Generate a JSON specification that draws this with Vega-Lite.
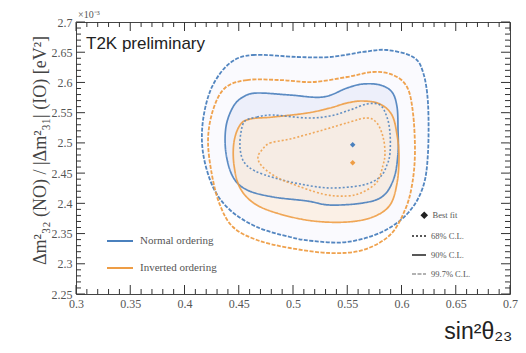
{
 "$schema": "https://vega.github.io/schema/vega-lite/v6.json",
 "width": 434, "height": 272,
 "autosize": "none",
 "padding": {"left": 76, "top": 22, "right": 16, "bottom": 59},
 "background": "white",
 "config": {"view": {"stroke": "#444", "strokeWidth": 1}, "font": "Liberation Serif"},
 "title": {"text": "T2K preliminary", "anchor": "start", "frame": "group", "orient": "top", "offset": 0, "dx": 10, "dy": 56, "baseline": "alphabetic", "font": "Liberation Sans", "fontSize": 17, "fontWeight": "normal", "color": "#222"},
 "datasets": {
  "notes": [{"label": "×10⁻³"}],
  "xt": [{"v":0.3,"m":1},{"v":0.31,"m":0},{"v":0.32,"m":0},{"v":0.33,"m":0},{"v":0.34,"m":0},{"v":0.35,"m":1},{"v":0.36,"m":0},{"v":0.37,"m":0},{"v":0.38,"m":0},{"v":0.39,"m":0},{"v":0.4,"m":1},{"v":0.41,"m":0},{"v":0.42,"m":0},{"v":0.43,"m":0},{"v":0.44,"m":0},{"v":0.45,"m":1},{"v":0.46,"m":0},{"v":0.47,"m":0},{"v":0.48,"m":0},{"v":0.49,"m":0},{"v":0.5,"m":1},{"v":0.51,"m":0},{"v":0.52,"m":0},{"v":0.53,"m":0},{"v":0.54,"m":0},{"v":0.55,"m":1},{"v":0.56,"m":0},{"v":0.57,"m":0},{"v":0.58,"m":0},{"v":0.59,"m":0},{"v":0.6,"m":1},{"v":0.61,"m":0},{"v":0.62,"m":0},{"v":0.63,"m":0},{"v":0.64,"m":0},{"v":0.65,"m":1},{"v":0.66,"m":0},{"v":0.67,"m":0},{"v":0.68,"m":0},{"v":0.69,"m":0},{"v":0.7,"m":1}],
  "yt": [{"v":2.25,"m":1},{"v":2.26,"m":0},{"v":2.27,"m":0},{"v":2.28,"m":0},{"v":2.29,"m":0},{"v":2.3,"m":1},{"v":2.31,"m":0},{"v":2.32,"m":0},{"v":2.33,"m":0},{"v":2.34,"m":0},{"v":2.35,"m":1},{"v":2.36,"m":0},{"v":2.37,"m":0},{"v":2.38,"m":0},{"v":2.39,"m":0},{"v":2.4,"m":1},{"v":2.41,"m":0},{"v":2.42,"m":0},{"v":2.43,"m":0},{"v":2.44,"m":0},{"v":2.45,"m":1},{"v":2.46,"m":0},{"v":2.47,"m":0},{"v":2.48,"m":0},{"v":2.49,"m":0},{"v":2.5,"m":1},{"v":2.51,"m":0},{"v":2.52,"m":0},{"v":2.53,"m":0},{"v":2.54,"m":0},{"v":2.55,"m":1},{"v":2.56,"m":0},{"v":2.57,"m":0},{"v":2.58,"m":0},{"v":2.59,"m":0},{"v":2.6,"m":1},{"v":2.61,"m":0},{"v":2.62,"m":0},{"v":2.63,"m":0},{"v":2.64,"m":0},{"v":2.65,"m":1},{"v":2.66,"m":0},{"v":2.67,"m":0},{"v":2.68,"m":0},{"v":2.69,"m":0},{"v":2.7,"m":1}],
  "contours": [
   {"o":"Normal ordering","cl":"99.7% C.L.","i":0,"x":0.4419,"y":2.6322},
   {"o":"Normal ordering","cl":"99.7% C.L.","i":1,"x":0.4631,"y":2.6454},
   {"o":"Normal ordering","cl":"99.7% C.L.","i":2,"x":0.5037,"y":2.6421},
   {"o":"Normal ordering","cl":"99.7% C.L.","i":3,"x":0.5341,"y":2.6421},
   {"o":"Normal ordering","cl":"99.7% C.L.","i":4,"x":0.5645,"y":2.6504},
   {"o":"Normal ordering","cl":"99.7% C.L.","i":5,"x":0.5866,"y":2.6537},
   {"o":"Normal ordering","cl":"99.7% C.L.","i":6,"x":0.6106,"y":2.6421},
   {"o":"Normal ordering","cl":"99.7% C.L.","i":7,"x":0.6198,"y":2.6173},
   {"o":"Normal ordering","cl":"99.7% C.L.","i":8,"x":0.6244,"y":2.5660},
   {"o":"Normal ordering","cl":"99.7% C.L.","i":9,"x":0.6244,"y":2.4833},
   {"o":"Normal ordering","cl":"99.7% C.L.","i":10,"x":0.6198,"y":2.4270},
   {"o":"Normal ordering","cl":"99.7% C.L.","i":11,"x":0.6060,"y":2.3840},
   {"o":"Normal ordering","cl":"99.7% C.L.","i":12,"x":0.5820,"y":2.3526},
   {"o":"Normal ordering","cl":"99.7% C.L.","i":13,"x":0.5498,"y":2.3360},
   {"o":"Normal ordering","cl":"99.7% C.L.","i":14,"x":0.5184,"y":2.3377},
   {"o":"Normal ordering","cl":"99.7% C.L.","i":15,"x":0.4972,"y":2.3443},
   {"o":"Normal ordering","cl":"99.7% C.L.","i":16,"x":0.4668,"y":2.3608},
   {"o":"Normal ordering","cl":"99.7% C.L.","i":17,"x":0.4419,"y":2.3890},
   {"o":"Normal ordering","cl":"99.7% C.L.","i":18,"x":0.4263,"y":2.4270},
   {"o":"Normal ordering","cl":"99.7% C.L.","i":19,"x":0.4171,"y":2.4833},
   {"o":"Normal ordering","cl":"99.7% C.L.","i":20,"x":0.4171,"y":2.5379},
   {"o":"Normal ordering","cl":"99.7% C.L.","i":21,"x":0.4253,"y":2.5925},

   {"o":"Inverted ordering","cl":"99.7% C.L.","i":0,"x":0.4373,"y":2.5908},
   {"o":"Inverted ordering","cl":"99.7% C.L.","i":1,"x":0.4576,"y":2.6040},
   {"o":"Inverted ordering","cl":"99.7% C.L.","i":2,"x":0.4880,"y":2.6040},
   {"o":"Inverted ordering","cl":"99.7% C.L.","i":3,"x":0.5184,"y":2.6007},
   {"o":"Inverted ordering","cl":"99.7% C.L.","i":4,"x":0.5498,"y":2.6090},
   {"o":"Inverted ordering","cl":"99.7% C.L.","i":5,"x":0.5737,"y":2.6173},
   {"o":"Inverted ordering","cl":"99.7% C.L.","i":6,"x":0.5922,"y":2.6123},
   {"o":"Inverted ordering","cl":"99.7% C.L.","i":7,"x":0.6051,"y":2.5925},
   {"o":"Inverted ordering","cl":"99.7% C.L.","i":8,"x":0.6106,"y":2.5494},
   {"o":"Inverted ordering","cl":"99.7% C.L.","i":9,"x":0.6124,"y":2.4833},
   {"o":"Inverted ordering","cl":"99.7% C.L.","i":10,"x":0.6097,"y":2.4303},
   {"o":"Inverted ordering","cl":"99.7% C.L.","i":11,"x":0.6032,"y":2.3890},
   {"o":"Inverted ordering","cl":"99.7% C.L.","i":12,"x":0.5894,"y":2.3476},
   {"o":"Inverted ordering","cl":"99.7% C.L.","i":13,"x":0.5645,"y":2.3228},
   {"o":"Inverted ordering","cl":"99.7% C.L.","i":14,"x":0.5341,"y":2.3178},
   {"o":"Inverted ordering","cl":"99.7% C.L.","i":15,"x":0.4972,"y":2.3261},
   {"o":"Inverted ordering","cl":"99.7% C.L.","i":16,"x":0.4668,"y":2.3393},
   {"o":"Inverted ordering","cl":"99.7% C.L.","i":17,"x":0.4447,"y":2.3608},
   {"o":"Inverted ordering","cl":"99.7% C.L.","i":18,"x":0.4327,"y":2.3972},
   {"o":"Inverted ordering","cl":"99.7% C.L.","i":19,"x":0.4253,"y":2.4469},
   {"o":"Inverted ordering","cl":"99.7% C.L.","i":20,"x":0.4217,"y":2.5048},
   {"o":"Inverted ordering","cl":"99.7% C.L.","i":21,"x":0.4263,"y":2.5544},

   {"o":"Normal ordering","cl":"90% C.L.","i":0,"x":0.4447,"y":2.5594},
   {"o":"Normal ordering","cl":"90% C.L.","i":1,"x":0.4539,"y":2.5759},
   {"o":"Normal ordering","cl":"90% C.L.","i":2,"x":0.4668,"y":2.5825},
   {"o":"Normal ordering","cl":"90% C.L.","i":3,"x":0.4972,"y":2.5792},
   {"o":"Normal ordering","cl":"90% C.L.","i":4,"x":0.5276,"y":2.5759},
   {"o":"Normal ordering","cl":"90% C.L.","i":5,"x":0.5498,"y":2.5908},
   {"o":"Normal ordering","cl":"90% C.L.","i":6,"x":0.5645,"y":2.5974},
   {"o":"Normal ordering","cl":"90% C.L.","i":7,"x":0.5802,"y":2.5958},
   {"o":"Normal ordering","cl":"90% C.L.","i":8,"x":0.5912,"y":2.5842},
   {"o":"Normal ordering","cl":"90% C.L.","i":9,"x":0.5959,"y":2.5594},
   {"o":"Normal ordering","cl":"90% C.L.","i":10,"x":0.5968,"y":2.5213},
   {"o":"Normal ordering","cl":"90% C.L.","i":11,"x":0.5968,"y":2.4833},
   {"o":"Normal ordering","cl":"90% C.L.","i":12,"x":0.5931,"y":2.4419},
   {"o":"Normal ordering","cl":"90% C.L.","i":13,"x":0.5830,"y":2.4121},
   {"o":"Normal ordering","cl":"90% C.L.","i":14,"x":0.5645,"y":2.4006},
   {"o":"Normal ordering","cl":"90% C.L.","i":15,"x":0.5341,"y":2.3972},
   {"o":"Normal ordering","cl":"90% C.L.","i":16,"x":0.5129,"y":2.4039},
   {"o":"Normal ordering","cl":"90% C.L.","i":17,"x":0.4816,"y":2.4105},
   {"o":"Normal ordering","cl":"90% C.L.","i":18,"x":0.4576,"y":2.4221},
   {"o":"Normal ordering","cl":"90% C.L.","i":19,"x":0.4447,"y":2.4436},
   {"o":"Normal ordering","cl":"90% C.L.","i":20,"x":0.4382,"y":2.4833},
   {"o":"Normal ordering","cl":"90% C.L.","i":21,"x":0.4382,"y":2.5263},

   {"o":"Inverted ordering","cl":"90% C.L.","i":0,"x":0.4512,"y":2.5296},
   {"o":"Inverted ordering","cl":"90% C.L.","i":1,"x":0.4604,"y":2.5395},
   {"o":"Inverted ordering","cl":"90% C.L.","i":2,"x":0.4816,"y":2.5428},
   {"o":"Inverted ordering","cl":"90% C.L.","i":3,"x":0.5129,"y":2.5494},
   {"o":"Inverted ordering","cl":"90% C.L.","i":4,"x":0.5341,"y":2.5577},
   {"o":"Inverted ordering","cl":"90% C.L.","i":5,"x":0.5498,"y":2.5660},
   {"o":"Inverted ordering","cl":"90% C.L.","i":6,"x":0.5645,"y":2.5693},
   {"o":"Inverted ordering","cl":"90% C.L.","i":7,"x":0.5802,"y":2.5643},
   {"o":"Inverted ordering","cl":"90% C.L.","i":8,"x":0.5912,"y":2.5461},
   {"o":"Inverted ordering","cl":"90% C.L.","i":9,"x":0.5959,"y":2.5131},
   {"o":"Inverted ordering","cl":"90% C.L.","i":10,"x":0.5977,"y":2.4767},
   {"o":"Inverted ordering","cl":"90% C.L.","i":11,"x":0.5959,"y":2.4336},
   {"o":"Inverted ordering","cl":"90% C.L.","i":12,"x":0.5894,"y":2.3972},
   {"o":"Inverted ordering","cl":"90% C.L.","i":13,"x":0.5737,"y":2.3774},
   {"o":"Inverted ordering","cl":"90% C.L.","i":14,"x":0.5498,"y":2.3691},
   {"o":"Inverted ordering","cl":"90% C.L.","i":15,"x":0.5184,"y":2.3708},
   {"o":"Inverted ordering","cl":"90% C.L.","i":16,"x":0.4880,"y":2.3823},
   {"o":"Inverted ordering","cl":"90% C.L.","i":17,"x":0.4650,"y":2.3989},
   {"o":"Inverted ordering","cl":"90% C.L.","i":18,"x":0.4512,"y":2.4254},
   {"o":"Inverted ordering","cl":"90% C.L.","i":19,"x":0.4456,"y":2.4634},
   {"o":"Inverted ordering","cl":"90% C.L.","i":20,"x":0.4456,"y":2.5015},

   {"o":"Normal ordering","cl":"68% C.L.","i":0,"x":0.4558,"y":2.5362},
   {"o":"Normal ordering","cl":"68% C.L.","i":1,"x":0.4668,"y":2.5428},
   {"o":"Normal ordering","cl":"68% C.L.","i":2,"x":0.4816,"y":2.5461},
   {"o":"Normal ordering","cl":"68% C.L.","i":3,"x":0.5129,"y":2.5412},
   {"o":"Normal ordering","cl":"68% C.L.","i":4,"x":0.5341,"y":2.5445},
   {"o":"Normal ordering","cl":"68% C.L.","i":5,"x":0.5525,"y":2.5544},
   {"o":"Normal ordering","cl":"68% C.L.","i":6,"x":0.5682,"y":2.5643},
   {"o":"Normal ordering","cl":"68% C.L.","i":7,"x":0.5802,"y":2.5627},
   {"o":"Normal ordering","cl":"68% C.L.","i":8,"x":0.5866,"y":2.5428},
   {"o":"Normal ordering","cl":"68% C.L.","i":9,"x":0.5894,"y":2.5164},
   {"o":"Normal ordering","cl":"68% C.L.","i":10,"x":0.5894,"y":2.4833},
   {"o":"Normal ordering","cl":"68% C.L.","i":11,"x":0.5866,"y":2.4634},
   {"o":"Normal ordering","cl":"68% C.L.","i":12,"x":0.5802,"y":2.4436},
   {"o":"Normal ordering","cl":"68% C.L.","i":13,"x":0.5645,"y":2.4303},
   {"o":"Normal ordering","cl":"68% C.L.","i":14,"x":0.5341,"y":2.4254},
   {"o":"Normal ordering","cl":"68% C.L.","i":15,"x":0.5065,"y":2.4320},
   {"o":"Normal ordering","cl":"68% C.L.","i":16,"x":0.4834,"y":2.4419},
   {"o":"Normal ordering","cl":"68% C.L.","i":17,"x":0.4650,"y":2.4535},
   {"o":"Normal ordering","cl":"68% C.L.","i":18,"x":0.4548,"y":2.4684},
   {"o":"Normal ordering","cl":"68% C.L.","i":19,"x":0.4512,"y":2.4915},
   {"o":"Normal ordering","cl":"68% C.L.","i":20,"x":0.4521,"y":2.5180},

   {"o":"Inverted ordering","cl":"68% C.L.","i":0,"x":0.4714,"y":2.4882},
   {"o":"Inverted ordering","cl":"68% C.L.","i":1,"x":0.4788,"y":2.4998},
   {"o":"Inverted ordering","cl":"68% C.L.","i":2,"x":0.4972,"y":2.5064},
   {"o":"Inverted ordering","cl":"68% C.L.","i":3,"x":0.5276,"y":2.5213},
   {"o":"Inverted ordering","cl":"68% C.L.","i":4,"x":0.5525,"y":2.5346},
   {"o":"Inverted ordering","cl":"68% C.L.","i":5,"x":0.5682,"y":2.5412},
   {"o":"Inverted ordering","cl":"68% C.L.","i":6,"x":0.5774,"y":2.5329},
   {"o":"Inverted ordering","cl":"68% C.L.","i":7,"x":0.5830,"y":2.5097},
   {"o":"Inverted ordering","cl":"68% C.L.","i":8,"x":0.5848,"y":2.4833},
   {"o":"Inverted ordering","cl":"68% C.L.","i":9,"x":0.5830,"y":2.4634},
   {"o":"Inverted ordering","cl":"68% C.L.","i":10,"x":0.5774,"y":2.4353},
   {"o":"Inverted ordering","cl":"68% C.L.","i":11,"x":0.5645,"y":2.4188},
   {"o":"Inverted ordering","cl":"68% C.L.","i":12,"x":0.5498,"y":2.4121},
   {"o":"Inverted ordering","cl":"68% C.L.","i":13,"x":0.5276,"y":2.4154},
   {"o":"Inverted ordering","cl":"68% C.L.","i":14,"x":0.4972,"y":2.4336},
   {"o":"Inverted ordering","cl":"68% C.L.","i":15,"x":0.4816,"y":2.4469},
   {"o":"Inverted ordering","cl":"68% C.L.","i":16,"x":0.4705,"y":2.4634},
   {"o":"Inverted ordering","cl":"68% C.L.","i":17,"x":0.4677,"y":2.4767}
  ],
  "bestfit": [
   {"c":"NO","kind":"Best fit","x":0.555,"y":2.497},
   {"c":"IO","kind":"Best fit","x":0.555,"y":2.467}
  ]
 },
 "layer": [
  {
   "data": {"name": "contours"},
   "transform": [{"filter": "datum.o == 'Normal ordering' && datum.cl != '68% C.L.'"}],
   "mark": {"type": "line", "interpolate": "cardinal-closed", "strokeOpacity": 0, "fill": "#5a6fd0"},
   "encoding": {
    "x": {"field": "x", "type": "quantitative", "scale": {"domain": [0.3, 0.7], "nice": false, "zero": false},
     "axis": {"orient": "bottom", "values": [0.3,0.35,0.4,0.45,0.5,0.55,0.6,0.65,0.7], "format": "~g",
      "labelOverlap": false, "labelFlush": false, "domain": false, "grid": false, "ticks": false, "tickSize": 0,
      "labelFont": "Liberation Serif", "labelFontSize": 12, "labelColor": "#555", "labelPadding": 4,
      "title": "sin²θ₂₃", "titleFont": "Liberation Sans", "titleFontSize": 23, "titleFontWeight": "normal", "titleColor": "#222",
      "titleAnchor": "end", "titleAlign": "right", "titleX": 436, "titleY": 44, "titleBaseline": "alphabetic"}},
    "y": {"field": "y", "type": "quantitative", "scale": {"domain": [2.25, 2.7], "nice": false, "zero": false},
     "axis": {"orient": "left", "values": [2.25,2.3,2.35,2.4,2.45,2.5,2.55,2.6,2.65,2.7], "format": "~g",
      "labelOverlap": false, "labelFlush": false, "domain": false, "grid": false, "ticks": false, "tickSize": 0,
      "labelFont": "Liberation Serif", "labelFontSize": 12, "labelColor": "#555", "labelPadding": 4,
      "title": "Δm²₃₂ (NO) / |Δm²₃₁| (IO) [eV²]", "titleFont": "Liberation Serif", "titleFontSize": 18, "titleFontWeight": "normal", "titleColor": "#444",
      "titleX": -36, "titleY": 128, "titleAngle": -90, "titleAlign": "center", "titleBaseline": "middle"}},
    "order": {"field": "i", "type": "quantitative"},
    "fillOpacity": {"field": "cl", "type": "ordinal", "scale": {"domain": ["90% C.L.", "99.7% C.L."], "range": [0.08, 0.03]}, "legend": null}
   }
  },
  {
   "data": {"name": "contours"},
   "transform": [{"filter": "datum.o == 'Inverted ordering' && datum.cl == '90% C.L.'"}],
   "mark": {"type": "line", "interpolate": "cardinal-closed", "strokeOpacity": 0, "fill": "#fbe9d6", "fillOpacity": 0.6},
   "encoding": {
    "x": {"field": "x", "type": "quantitative", "scale": {"domain": [0.3, 0.7], "nice": false, "zero": false}, "axis": null},
    "y": {"field": "y", "type": "quantitative", "scale": {"domain": [2.25, 2.7], "nice": false, "zero": false}, "axis": null},
    "order": {"field": "i", "type": "quantitative"}
   }
  },
  {
   "data": {"name": "contours"},
   "mark": {"type": "line", "interpolate": "cardinal-closed"},
   "encoding": {
    "x": {"field": "x", "type": "quantitative", "scale": {"domain": [0.3, 0.7], "nice": false, "zero": false}, "axis": null},
    "y": {"field": "y", "type": "quantitative", "scale": {"domain": [2.25, 2.7], "nice": false, "zero": false}, "axis": null},
    "order": {"field": "i", "type": "quantitative"},
    "stroke": {"field": "o", "type": "nominal", "scale": {"domain": ["Normal ordering", "Inverted ordering"], "range": ["#4a80bd", "#ee9d45"]},
     "legend": {"orient": "none", "legendX": 30, "legendY": 205, "title": null, "padding": 0, "symbolType": "stroke", "symbolSize": 676, "symbolStrokeWidth": 2, "rowPadding": 8, "labelFont": "Liberation Serif", "labelFontSize": 11, "labelColor": "#555", "labelOffset": 6}},
    "strokeDash": {"field": "cl", "type": "nominal", "scale": {"domain": ["68% C.L.", "90% C.L.", "99.7% C.L."], "range": [[2, 2], [1, 0], [4, 1.5]]},
     "legend": {"orient": "none", "legendX": 335, "legendY": 206, "title": null, "padding": 0, "symbolType": "stroke", "symbolSize": 196, "symbolStrokeWidth": 1.4, "symbolStrokeColor": "#222", "rowPadding": 6, "labelFont": "Liberation Serif", "labelFontSize": 8.5, "labelColor": "#555", "labelOffset": 4,
      "encode": {"symbols": {"update": {"stroke": {"value": "#222"}, "strokeOpacity": {"signal": "datum.value === '99.7% C.L.' ? 0.35 : 1"}}}}}},
    "strokeWidth": {"field": "cl", "type": "ordinal", "scale": {"domain": ["68% C.L.", "90% C.L.", "99.7% C.L."], "range": [1.6, 1.8, 1]}, "legend": null},
    "strokeOpacity": {"field": "cl", "type": "ordinal", "scale": {"domain": ["68% C.L.", "90% C.L.", "99.7% C.L."], "range": [0.85, 0.95, 0.3]}, "legend": null}
   }
  },
  {
   "data": {"name": "bestfit"},
   "mark": {"type": "point", "filled": true, "size": 30, "opacity": 1},
   "encoding": {
    "x": {"field": "x", "type": "quantitative", "scale": {"domain": [0.3, 0.7], "nice": false, "zero": false}, "axis": null},
    "y": {"field": "y", "type": "quantitative", "scale": {"domain": [2.25, 2.7], "nice": false, "zero": false}, "axis": null},
    "fill": {"field": "c", "type": "nominal", "scale": {"domain": ["NO", "IO"], "range": ["#4a80bd", "#ee9d45"]}, "legend": null},
    "shape": {"field": "kind", "type": "nominal", "scale": {"domain": ["Best fit"], "range": ["diamond"]},
     "legend": {"orient": "none", "legendX": 344, "legendY": 189, "title": null, "padding": 0, "symbolSize": 30, "symbolFillColor": "#222", "symbolStrokeColor": "#222", "labelFont": "Liberation Serif", "labelFontSize": 8.5, "labelColor": "#555", "labelOffset": 4}}
   }
  },
  {
   "data": {"name": "notes"},
   "mark": {"type": "text", "align": "left", "baseline": "alphabetic", "dx": 2, "dy": -4, "font": "Liberation Serif", "fontSize": 10, "color": "#555"},
   "encoding": {
    "x": {"datum": 0.3, "type": "quantitative", "scale": {"domain": [0.3, 0.7], "nice": false, "zero": false}, "axis": null},
    "y": {"datum": 2.7, "type": "quantitative", "scale": {"domain": [2.25, 2.7], "nice": false, "zero": false}, "axis": null},
    "text": {"field": "label"}
   }
  },
  {
   "data": {"name": "xt"}, "transform": [{"filter": "datum.m == 1"}],
   "mark": {"type": "tick", "orient": "vertical", "size": 9, "thickness": 1, "yOffset": -4.5, "color": "#333", "opacity": 1},
   "encoding": {
    "x": {"field": "v", "type": "quantitative", "scale": {"domain": [0.3, 0.7], "nice": false, "zero": false}, "axis": null},
    "y": {"datum": 2.25, "type": "quantitative", "scale": {"domain": [2.25, 2.7], "nice": false, "zero": false}, "axis": null}
   }
  },
  {
   "data": {"name": "xt"}, "transform": [{"filter": "datum.m == 0"}],
   "mark": {"type": "tick", "orient": "vertical", "size": 5, "thickness": 1, "yOffset": -2.5, "color": "#333", "opacity": 1},
   "encoding": {
    "x": {"field": "v", "type": "quantitative", "scale": {"domain": [0.3, 0.7], "nice": false, "zero": false}, "axis": null},
    "y": {"datum": 2.25, "type": "quantitative", "scale": {"domain": [2.25, 2.7], "nice": false, "zero": false}, "axis": null}
   }
  },
  {
   "data": {"name": "xt"}, "transform": [{"filter": "datum.m == 1"}],
   "mark": {"type": "tick", "orient": "vertical", "size": 9, "thickness": 1, "yOffset": 4.5, "color": "#333", "opacity": 1},
   "encoding": {
    "x": {"field": "v", "type": "quantitative", "scale": {"domain": [0.3, 0.7], "nice": false, "zero": false}, "axis": null},
    "y": {"datum": 2.7, "type": "quantitative", "scale": {"domain": [2.25, 2.7], "nice": false, "zero": false}, "axis": null}
   }
  },
  {
   "data": {"name": "xt"}, "transform": [{"filter": "datum.m == 0"}],
   "mark": {"type": "tick", "orient": "vertical", "size": 5, "thickness": 1, "yOffset": 2.5, "color": "#333", "opacity": 1},
   "encoding": {
    "x": {"field": "v", "type": "quantitative", "scale": {"domain": [0.3, 0.7], "nice": false, "zero": false}, "axis": null},
    "y": {"datum": 2.7, "type": "quantitative", "scale": {"domain": [2.25, 2.7], "nice": false, "zero": false}, "axis": null}
   }
  },
  {
   "data": {"name": "yt"}, "transform": [{"filter": "datum.m == 1"}],
   "mark": {"type": "tick", "orient": "horizontal", "size": 9, "thickness": 1, "xOffset": 4.5, "color": "#333", "opacity": 1},
   "encoding": {
    "y": {"field": "v", "type": "quantitative", "scale": {"domain": [2.25, 2.7], "nice": false, "zero": false}, "axis": null},
    "x": {"datum": 0.3, "type": "quantitative", "scale": {"domain": [0.3, 0.7], "nice": false, "zero": false}, "axis": null}
   }
  },
  {
   "data": {"name": "yt"}, "transform": [{"filter": "datum.m == 0"}],
   "mark": {"type": "tick", "orient": "horizontal", "size": 5, "thickness": 1, "xOffset": 2.5, "color": "#333", "opacity": 1},
   "encoding": {
    "y": {"field": "v", "type": "quantitative", "scale": {"domain": [2.25, 2.7], "nice": false, "zero": false}, "axis": null},
    "x": {"datum": 0.3, "type": "quantitative", "scale": {"domain": [0.3, 0.7], "nice": false, "zero": false}, "axis": null}
   }
  },
  {
   "data": {"name": "yt"}, "transform": [{"filter": "datum.m == 1"}],
   "mark": {"type": "tick", "orient": "horizontal", "size": 9, "thickness": 1, "xOffset": -4.5, "color": "#333", "opacity": 1},
   "encoding": {
    "y": {"field": "v", "type": "quantitative", "scale": {"domain": [2.25, 2.7], "nice": false, "zero": false}, "axis": null},
    "x": {"datum": 0.7, "type": "quantitative", "scale": {"domain": [0.3, 0.7], "nice": false, "zero": false}, "axis": null}
   }
  },
  {
   "data": {"name": "yt"}, "transform": [{"filter": "datum.m == 0"}],
   "mark": {"type": "tick", "orient": "horizontal", "size": 5, "thickness": 1, "xOffset": -2.5, "color": "#333", "opacity": 1},
   "encoding": {
    "y": {"field": "v", "type": "quantitative", "scale": {"domain": [2.25, 2.7], "nice": false, "zero": false}, "axis": null},
    "x": {"datum": 0.7, "type": "quantitative", "scale": {"domain": [0.3, 0.7], "nice": false, "zero": false}, "axis": null}
   }
  }
 ],
 "resolve": {"axis": {"x": "independent", "y": "independent"}}
}
